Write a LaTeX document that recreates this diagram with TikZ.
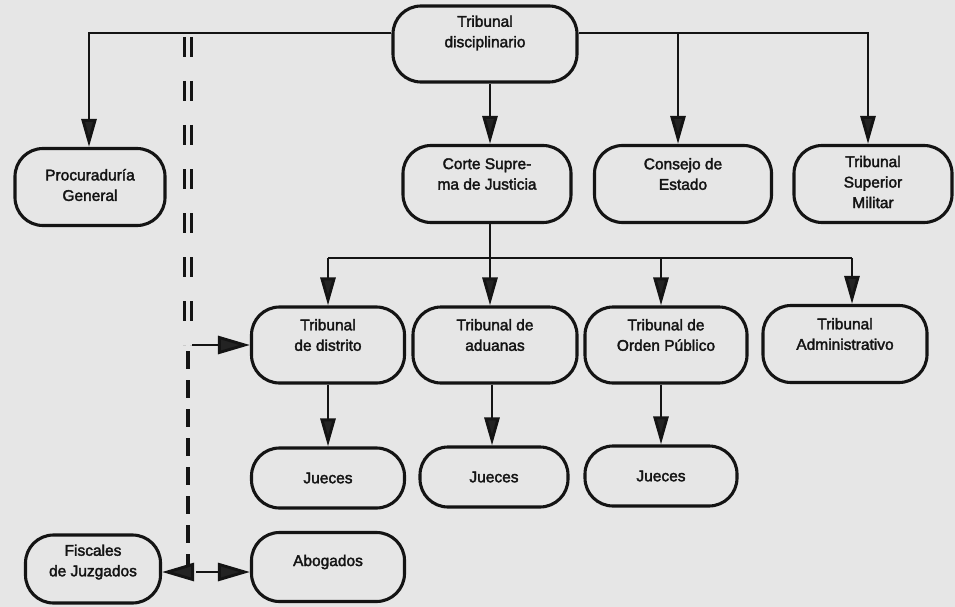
\documentclass[tikz,border=0pt]{standalone}
\usepackage{fontspec}
\setmainfont{Liberation Sans}
\newfontfamily\labfont{Liberation Sans}[FakeBold=2.2]
\usetikzlibrary{arrows.meta}
\definecolor{paper}{RGB}{230,230,230}
\definecolor{ink}{RGB}{20,20,20}
\definecolor{tip}{RGB}{35,35,35}
\begin{document}
\begin{tikzpicture}[x=1pt,y=-1pt,
  box/.style={draw=ink,line width=3.1pt,rounded corners=28pt,inner sep=0pt},
  txt/.style={align=center,font=\labfont\fontsize{15.5}{20.5}\selectfont,text=ink,inner sep=0pt},
  conn/.style={draw=ink,line width=2.9pt},
  arr/.style={conn,-{Triangle[length=28pt,width=15pt,fill=tip]}},
  harr/.style={conn,-{Triangle[length=32pt,width=18pt,fill=tip]}},
  dash2/.style={draw=ink,line width=3.6pt,dash pattern=on 20pt off 24pt},
  dash1/.style={draw=ink,line width=3.2pt,dash pattern=on 18pt off 11pt}
]
\useasboundingbox (0,0) rectangle (955,607);
\fill[paper] (0,0) rectangle (955,607);

% boxes
\node[box,minimum width=184pt,minimum height=76pt] (td) at (485,44) {};
\node[box,minimum width=150pt,minimum height=77pt] (pg) at (90,187) {};
\node[box,minimum width=168pt,minimum height=77pt] (cs) at (487,184) {};
\node[box,minimum width=177pt,minimum height=77pt] (ce) at (683,184) {};
\node[box,minimum width=158pt,minimum height=77pt] (tsm) at (873,184) {};
\node[box,minimum width=153pt,minimum height=76pt] (dis) at (328,345) {};
\node[box,minimum width=164pt,minimum height=76pt] (ta) at (495,345) {};
\node[box,minimum width=162pt,minimum height=76pt] (to) at (666,345) {};
\node[box,minimum width=164pt,minimum height=77pt] (tad) at (845,344) {};
\node[box,minimum width=153pt,minimum height=60pt] (j1) at (328,478) {};
\node[box,minimum width=148pt,minimum height=60pt] (j2) at (494,477) {};
\node[box,minimum width=152pt,minimum height=60pt] (j3) at (661,476) {};
\node[box,minimum width=135pt,minimum height=68pt] (fj) at (93,569) {};
\node[box,minimum width=153pt,minimum height=69pt] (ab) at (328,567) {};

% texts
\node[txt] (tdt) at ([yshift=11pt]td.center) {Tribunal\\disciplinario};
\node[txt] (pgt) at ([yshift=2pt]pg.center) {Procuraduría\\General};
\node[txt] (cst) at ([yshift=10pt]cs.center) {Corte Supre-\\ma de Justicia};
\node[txt] (cet) at ([yshift=10pt]ce.center) {Consejo de\\Estado};
\node[txt] (tsmt) at ([yshift=2pt]tsm.center) {Tribunal\\Superior\\Militar};
\node[txt] (dist) at ([yshift=10pt]dis.center) {Tribunal\\de distrito};
\node[txt] (tat) at ([yshift=10pt]ta.center) {Tribunal de\\aduanas};
\node[txt] (tot) at ([yshift=10pt]to.center) {Tribunal de\\Orden Público};
\node[txt] (tadt) at ([yshift=10pt]tad.center) {Tribunal\\Administrativo};
\node[txt] (j1t) at (j1.center) {Jueces};
\node[txt] (j2t) at (j2.center) {Jueces};
\node[txt] (j3t) at (j3.center) {Jueces};
\node[txt] (fjt) at ([yshift=7pt]fj.center) {Fiscales\\de Juzgados};
\node[txt] (abt) at ([yshift=5pt]ab.center) {Abogados};

% coordinates
\coordinate (top) at (0,33);
\coordinate (bus) at (0,258);
\coordinate (dtop) at (188,37);
\coordinate (dmid) at (188,345);
\coordinate (dbot) at (188,572);

% top level connectors
\draw[arr] (td.west |- top) -| ([xshift=-1pt]pg.north);
\draw[arr] (td.east |- top) -| ([xshift=-5pt]tsm.north);
\draw[arr] ([xshift=-5pt]ce.north |- top) -- ([xshift=-5pt]ce.north);
\draw[arr] ([xshift=3pt]cs.north |- td.south) -- ([xshift=3pt]cs.north);

% second level
\draw[conn] ([xshift=3pt]cs.south) -- ([xshift=3pt]cs.south |- bus);
\draw[conn] (dis.north |- bus) -- ([xshift=7pt]tad.north |- bus);
\draw[arr] (dis.north |- bus) -- (dis.north);
\draw[arr] ([xshift=3pt]cs.south |- bus) -- ([xshift=3pt]cs.south |- ta.north);
\draw[arr] (j3.north |- bus) -- (j3.north |- to.north);
\draw[arr] ([xshift=7pt]tad.north |- bus) -- ([xshift=7pt]tad.north);

% judges
\draw[arr] (dis.south) -- (j1.north);
\draw[arr] ([xshift=-3pt]ta.south) -- ([xshift=-3pt]ta.south |- j2.north);
\draw[arr] (j3.north |- to.south) -- (j3.north);

% dashed line
\draw[dash2] ([xshift=-3.5pt]dtop) -- ([xshift=-3.5pt]dmid);
\draw[dash2] ([xshift=3.5pt]dtop) -- ([xshift=3.5pt]dmid);
\draw[dash1] ([yshift=-6pt]dmid) -- ([yshift=4pt]dbot);
\draw[harr] ([xshift=4pt]dmid) -- (dis.west |- dmid);
\draw[harr] ([xshift=-4pt]dbot) -- (fj.east |- dbot);
\draw[harr] ([xshift=8pt]dbot) -- (ab.west |- dbot);
\end{tikzpicture}
\end{document}
